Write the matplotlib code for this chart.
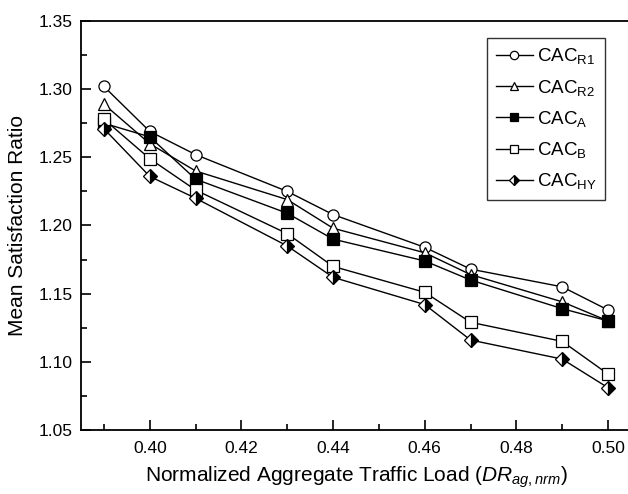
import numpy as np
import matplotlib.pyplot as plt
from matplotlib.ticker import MultipleLocator

plt.rcParams['font.family'] = ['Liberation Sans', 'DejaVu Sans']
plt.rcParams['mathtext.fontset'] = 'custom'
plt.rcParams['mathtext.rm'] = 'Liberation Sans'
plt.rcParams['mathtext.it'] = 'Liberation Sans:italic'

load = [0.39, 0.40, 0.41, 0.43, 0.44, 0.46, 0.47, 0.49, 0.50]
cac_r1 = [1.302, 1.269, 1.252, 1.225, 1.208, 1.184, 1.168, 1.155, 1.138]
cac_r2 = [1.289, 1.260, 1.240, 1.219, 1.198, 1.180, 1.164, 1.144, 1.130]
cac_a = [1.275, 1.265, 1.234, 1.209, 1.190, 1.174, 1.160, 1.139, 1.130]
cac_b = [1.278, 1.249, 1.226, 1.194, 1.170, 1.151, 1.129, 1.115, 1.091]
cac_hy = [1.271, 1.236, 1.220, 1.185, 1.162, 1.142, 1.116, 1.102, 1.081]

fig = plt.figure(figsize=(6.28, 4.94), dpi=100)
ax = fig.add_axes([81/628, 64/494, 550/628, 409/494])

kw = dict(color='black', lw=1, ms=8, mec='black', mew=0.9)
ax.plot(load, cac_r1, marker='o', mfc='white', label=r'CAC$_{\mathrm{R1}}$', **kw)
ax.plot(load, cac_r2, marker='^', mfc='white', label=r'CAC$_{\mathrm{R2}}$', **kw)
ax.plot(load, cac_a, marker='s', mfc='black', label=r'CAC$_{\mathrm{A}}$', **kw)
ax.plot(load, cac_b, marker='s', mfc='white', label=r'CAC$_{\mathrm{B}}$', **kw)
ax.plot(load, cac_hy, marker='D', fillstyle='right', mfc='black',
        markerfacecoloralt='white', label=r'CAC$_{\mathrm{HY}}$',
        color='black', lw=1, ms=7, mec='black', mew=0.9)

ax.set_xlim(0.385, 0.505)
ax.set_ylim(1.05, 1.35)
ax.set_xticks([0.40, 0.42, 0.44, 0.46, 0.48, 0.50])
ax.set_xticklabels(['0.40', '0.42', '0.44', '0.46', '0.48', '0.50'])
ax.set_yticks(np.arange(1.05, 1.351, 0.05))
ax.set_yticklabels(['%.2f' % v for v in np.arange(1.05, 1.351, 0.05)])
ax.xaxis.set_minor_locator(MultipleLocator(0.01))
ax.yaxis.set_minor_locator(MultipleLocator(0.025))
ax.tick_params(which='both', direction='in', labelsize=12.5, width=1.2)
ax.tick_params(axis='x', which='major', length=7, pad=8)
ax.tick_params(axis='y', which='major', length=7, pad=6)
ax.tick_params(which='minor', length=4)
for s in ax.spines.values():
    s.set_linewidth(1.3)

ax.set_xlabel(r'Normalized Aggregate Traffic Load ($DR_{ag,nrm}$)', fontsize=15, labelpad=6)
ax.set_ylabel('Mean Satisfaction Ratio', fontsize=15, labelpad=8)

leg = ax.legend(loc='upper right', bbox_to_anchor=(605/628, 456/494),
                bbox_transform=fig.transFigure, borderaxespad=0, fontsize=13.5,
                frameon=True, fancybox=False, edgecolor='black', handlelength=2.0,
                handletextpad=0.2, labelspacing=0.6, borderpad=0.45, markerscale=0.75)
leg.get_frame().set_linewidth(1)

plt.savefig('out.png', dpi=100)
